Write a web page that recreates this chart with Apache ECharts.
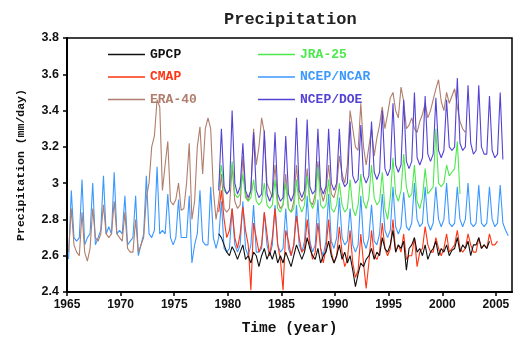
<!DOCTYPE html>
<html>
<head>
<meta charset="utf-8">
<script src="https://cdn.jsdelivr.net/npm/echarts@6/dist/echarts.min.js"></script>
<style>
  html, body { margin: 0; padding: 0; background: #fff; }
  #chart { width: 513px; height: 341px; }
</style>
</head>
<body>
<div id="chart"></div>
<script>
// seasonal samples, 4 per year at year + .15 / .40 / .65 / .90
const stepsPerYear = 4
const sampleOffset = 0.15

const xTicks = [1965, 1970, 1975, 1980, 1985, 1990, 1995, 2000, 2005]
const yTicks = [2.4, 2.6, 2.8, 3.0, 3.2, 3.4, 3.6, 3.8]

const ncepNcarStart = 1965
const ncepNcar = [
  2.58, 2.96, 2.70, 2.68,  2.70, 3.02, 2.66, 2.70,  2.72, 3.00, 2.66, 2.70,
  2.74, 3.04, 2.72, 2.76,  2.72, 3.06, 2.72, 2.74,  2.72, 2.93, 2.66, 2.68,
  2.70, 2.93, 2.60, 2.66,  2.72, 3.04, 2.72, 2.70,  2.74, 3.09, 2.72, 2.74,
  2.72, 2.94, 2.70, 2.66,  2.70, 2.91, 2.70, 2.70,  2.70, 2.93, 2.56, 2.66,
  2.72, 2.96, 2.68, 2.66,  2.66, 2.98, 2.70, 2.64,  2.70, 2.90, 2.64, 2.62,
  2.64, 2.86, 2.66, 2.62,  2.66, 2.90, 2.64, 2.60,  2.66, 2.88, 2.62, 2.62,
  2.64, 2.84, 2.66, 2.60,  2.66, 2.88, 2.66, 2.62,  2.64, 2.86, 2.64, 2.60,
  2.66, 2.88, 2.66, 2.62,  2.68, 2.93, 2.68, 2.62,  2.66, 2.91, 2.64, 2.60,
  2.68, 2.94, 2.68, 2.64,  2.70, 2.92, 2.70, 2.66,  2.68, 2.86, 2.66, 2.62,
  2.66, 2.93, 2.68, 2.64,  2.70, 2.88, 2.68, 2.66,  2.72, 2.94, 2.74, 2.70,
  2.74, 2.98, 2.76, 2.72,  2.76, 2.95, 2.76, 2.74,  2.78, 3.00, 2.80, 2.76,
  2.78, 2.98, 2.78, 2.74,  2.78, 2.98, 2.80, 2.76,  2.80, 3.00, 2.78, 2.76,
  2.78, 2.98, 2.80, 2.76,  2.80, 3.00, 2.78, 2.76,  2.78, 2.99, 2.78, 2.76,
  2.78, 2.98, 2.80, 2.76,  2.78, 2.99, 2.78, 2.74,  2.71
]

const era40Start = 1965
const era40 = [
  2.62, 2.86, 2.66, 2.62,  2.60, 2.84, 2.62, 2.57,  2.64, 2.86, 2.70, 2.68,
  2.72, 2.88, 2.72, 2.70,  2.72, 2.90, 2.72, 2.70,  2.68, 2.84, 2.64, 2.62,
  2.62, 2.80, 2.62, 2.66,  2.70, 2.92, 3.00, 3.20,  3.26, 3.46, 3.42, 2.96,
  3.10, 3.23, 2.90, 2.88,  2.91, 3.00, 2.85, 2.86,  3.00, 3.22, 2.80, 2.90,
  3.20, 3.31, 3.05, 3.30,  3.36, 3.30, 2.96, 2.80,  2.90, 3.05, 2.86, 2.84,
  2.86, 3.10, 2.90, 2.86,  2.88, 3.15, 2.94, 2.90,  2.96, 3.30, 3.10, 3.20,
  3.36, 3.28, 3.00, 2.96,  2.92, 3.10, 2.90, 2.86,  2.88, 3.05, 2.86, 2.84,
  2.90, 3.10, 2.92, 2.90,  2.92, 3.08, 2.90, 2.88,  2.94, 3.12, 2.96, 2.90,
  2.96, 3.10, 2.94, 2.92,  2.98, 3.15, 3.05, 3.00,  3.10, 3.40, 3.30, 3.20,
  3.18, 3.44, 3.20, 3.10,  3.20, 3.30, 3.15, 3.25,  3.32, 3.42, 3.30, 3.38,
  3.47, 3.50, 3.40, 3.36,  3.53, 3.45, 3.30, 3.32,  3.36, 3.30, 3.28, 3.34,
  3.38, 3.44, 3.36, 3.40,  3.46, 3.52, 3.57, 3.45,  3.40, 3.50, 3.44, 3.48,
  3.52, 3.42, 3.34, 3.30,  3.28
]

const jra25Start = 1979
const jra25 = [
  2.98, 3.10, 2.96, 2.94,  2.96, 3.12, 2.94, 2.92,  2.94, 3.05, 2.92, 2.90,
  2.92, 3.02, 2.90, 2.88,  2.90, 3.00, 2.88, 2.86,  2.88, 3.02, 2.86, 2.84,
  2.88, 3.00, 2.86, 2.84,  2.86, 3.02, 2.88, 2.84,  2.88, 3.04, 2.90, 2.86,
  2.90, 3.09, 2.88, 2.86,  2.88, 3.02, 2.86, 2.84,  2.88, 3.00, 2.88, 2.84,
  2.86, 3.02, 2.86, 2.82,  2.88, 3.05, 2.90, 2.86,  2.92, 3.10, 2.92, 2.88,
  2.90, 3.06, 2.86, 2.80,  2.92, 3.14, 2.94, 2.90,  2.96, 3.16, 2.98, 2.92,
  2.94, 3.10, 2.90, 2.86,  2.92, 3.08, 2.94, 2.96,  2.98, 3.30, 3.00, 2.98,
  3.00, 3.10, 3.04, 3.06,  3.08, 3.23, 2.94
]

const ncepDoeStart = 1979
const ncepDoe = [
  2.96, 3.30, 2.98, 2.94,  2.96, 3.40, 3.00, 2.94,  2.98, 3.22, 2.96, 2.92,
  2.96, 3.28, 2.96, 2.92,  2.94, 3.29, 2.94, 2.90,  2.94, 3.28, 2.94, 2.90,
  2.92, 3.26, 2.94, 2.90,  2.94, 3.36, 2.96, 2.92,  2.96, 3.35, 2.98, 2.94,
  2.96, 3.30, 2.98, 2.94,  2.98, 3.30, 3.00, 2.96,  3.00, 3.30, 3.02, 2.98,
  3.00, 3.34, 3.04, 3.00,  3.02, 3.32, 3.04, 3.00,  3.04, 3.34, 3.06, 3.02,
  3.06, 3.40, 3.08, 3.04,  3.08, 3.44, 3.10, 3.06,  3.10, 3.46, 3.12, 3.08,
  3.12, 3.50, 3.14, 3.10,  3.14, 3.48, 3.16, 3.12,  3.16, 3.47, 3.18, 3.14,
  3.18, 3.46, 3.20, 3.18,  3.20, 3.58, 3.22, 3.18,  3.20, 3.54, 3.22, 3.16,
  3.18, 3.54, 3.20, 3.16,  3.16, 3.48, 3.18, 3.14,  3.16, 3.50, 3.13
]

const gpcpStart = 1979
const gpcp = [
  2.72, 2.70, 2.66, 2.62,  2.60, 2.65, 2.62, 2.58,  2.62, 2.66, 2.58, 2.60,
  2.56, 2.62, 2.60, 2.54,  2.60, 2.64, 2.58, 2.62,  2.58, 2.63, 2.56, 2.60,
  2.56, 2.62, 2.58, 2.54,  2.60, 2.66, 2.62, 2.58,  2.62, 2.70, 2.64, 2.60,
  2.58, 2.64, 2.56, 2.60,  2.62, 2.68, 2.60, 2.56,  2.60, 2.66, 2.58, 2.62,
  2.56, 2.60, 2.52, 2.43,  2.50, 2.56, 2.54, 2.58,  2.60, 2.64, 2.58, 2.62,
  2.60, 2.70, 2.64, 2.62,  2.66, 2.74, 2.62, 2.66,  2.64, 2.68, 2.52, 2.64,
  2.66, 2.70, 2.62, 2.64,  2.60, 2.66, 2.58, 2.62,  2.64, 2.68, 2.60, 2.64,
  2.62, 2.66, 2.60, 2.63,  2.64, 2.70, 2.62, 2.66,  2.64, 2.68, 2.60, 2.66,
  2.66, 2.70, 2.64, 2.66,  2.64, 2.68
]

const cmapStart = 1979
const cmap = [
  2.84, 2.96, 2.80, 2.70,  2.74, 2.86, 2.70, 2.64,  2.72, 2.87, 2.74, 2.66,
  2.41, 2.78, 2.70, 2.62,  2.66, 2.84, 2.72, 2.60,  2.70, 2.86, 2.66, 2.58,
  2.41, 2.74, 2.68, 2.60,  2.66, 2.82, 2.70, 2.62,  2.64, 2.80, 2.66, 2.58,
  2.62, 2.78, 2.64, 2.56,  2.64, 2.80, 2.62, 2.56,  2.60, 2.76, 2.62, 2.54,
  2.58, 2.74, 2.56, 2.48,  2.52, 2.72, 2.56, 2.42,  2.56, 2.74, 2.60, 2.58,
  2.62, 2.78, 2.64, 2.60,  2.64, 2.80, 2.62, 2.66,  2.62, 2.72, 2.58, 2.60,
  2.60, 2.70, 2.54, 2.62,  2.64, 2.76, 2.66, 2.62,  2.62, 2.70, 2.64, 2.60,
  2.64, 2.72, 2.62, 2.64,  2.66, 2.74, 2.64, 2.62,  2.64, 2.72, 2.66, 2.62,
  2.62, 2.70, 2.64, 2.66,  2.64, 2.72, 2.66, 2.66,  2.68
]

const monoFont = '"Liberation Mono", "DejaVu Sans Mono", monospace'
const tickFont = '"Liberation Sans", Arial, sans-serif'

// [year, value] pairs from a start year and the seasonal samples
const toPoints = (startYear, values) => {
  return values.map((v, i) => [startYear + sampleOffset + i / stepsPerYear, v])
}

const seriesList = [
  { name: 'NCEP/NCAR', color: '#3b98ff', start: ncepNcarStart, values: ncepNcar },
  { name: 'ERA-40', color: '#b07e6c', start: era40Start, values: era40 },
  { name: 'JRA-25', color: '#4ee84e', start: jra25Start, values: jra25 },
  { name: 'NCEP/DOE', color: '#5343d4', start: ncepDoeStart, values: ncepDoe },
  { name: 'CMAP', color: '#ff3412', start: cmapStart, values: cmap },
  { name: 'GPCP', color: '#111111', start: gpcpStart, values: gpcp }
]

const colorOf = name => seriesList.find(s => s.name === name).color

const legendItems = names => names.map(name => ({
  name,
  textStyle: { color: colorOf(name) }
}))

// plain line as legend key
const legendBase = {
  orient: 'vertical',
  selectedMode: false,
  icon: 'path://M0,0 L37,0 L37,1.4 L0,1.4 Z',
  itemWidth: 37,
  itemHeight: 12,
  itemGap: 9.5,
  textStyle: {
    fontFamily: monoFont,
    fontWeight: 'bold',
    fontSize: 13,
    padding: [0, 0, 0, 0]
  }
}

const chart = echarts.init(document.getElementById('chart'))

chart.setOption({
  animation: false,
  backgroundColor: '#fff',
  title: {
    text: 'Precipitation',
    left: 219,
    top: 6,
    textStyle: {
      fontFamily: monoFont,
      fontWeight: 'bold',
      fontSize: 17,
      color: '#222'
    }
  },
  legend: [
    Object.assign({}, legendBase, {
      left: 103,
      top: 43,
      data: legendItems(['GPCP', 'CMAP', 'ERA-40'])
    }),
    Object.assign({}, legendBase, {
      left: 253,
      top: 43,
      data: legendItems(['JRA-25', 'NCEP/NCAR', 'NCEP/DOE'])
    })
  ],
  grid: {
    left: 67,
    right: 1,
    top: 38,
    bottom: 43,
    show: true,
    borderColor: '#000',
    borderWidth: 1.5
  },
  xAxis: {
    type: 'value',
    min: 1965,
    max: 2006.5,
    interval: 5,
    name: 'Time (year)',
    nameLocation: 'middle',
    nameGap: 29,
    nameTextStyle: {
      fontFamily: monoFont,
      fontWeight: 'bold',
      fontSize: 14.5,
      color: '#111'
    },
    splitLine: { show: false },
    axisLine: { lineStyle: { color: '#000', width: 2 } },
    axisTick: { length: 4, lineStyle: { color: '#000', width: 1.5 } },
    axisLabel: {
      margin: 7,
      showMaxLabel: false,
      fontFamily: tickFont,
      fontWeight: 'bold',
      fontSize: 12,
      color: '#111',
      formatter: v => (xTicks.includes(v) ? String(v) : '')
    }
  },
  yAxis: {
    type: 'value',
    min: yTicks[0],
    max: yTicks[yTicks.length - 1],
    interval: 0.2,
    name: 'Precipitation (mm/day)',
    nameLocation: 'middle',
    nameGap: 40,
    nameRotate: 90,
    nameTextStyle: {
      fontFamily: monoFont,
      fontWeight: 'bold',
      fontSize: 11.5,
      color: '#111'
    },
    splitLine: { show: false },
    axisLine: { show: true, lineStyle: { color: '#000', width: 2 } },
    axisTick: { show: true, length: 4, lineStyle: { color: '#000', width: 1.5 } },
    axisLabel: {
      margin: 8,
      fontFamily: tickFont,
      fontWeight: 'bold',
      fontSize: 12.5,
      color: '#111'
    }
  },
  series: seriesList.map(s => ({
    name: s.name,
    type: 'line',
    showSymbol: false,
    symbol: 'none',
    color: s.color,
    lineStyle: { width: 1.1, color: s.color },
    data: toPoints(s.start, s.values)
  }))
})
</script>
</body>
</html>
